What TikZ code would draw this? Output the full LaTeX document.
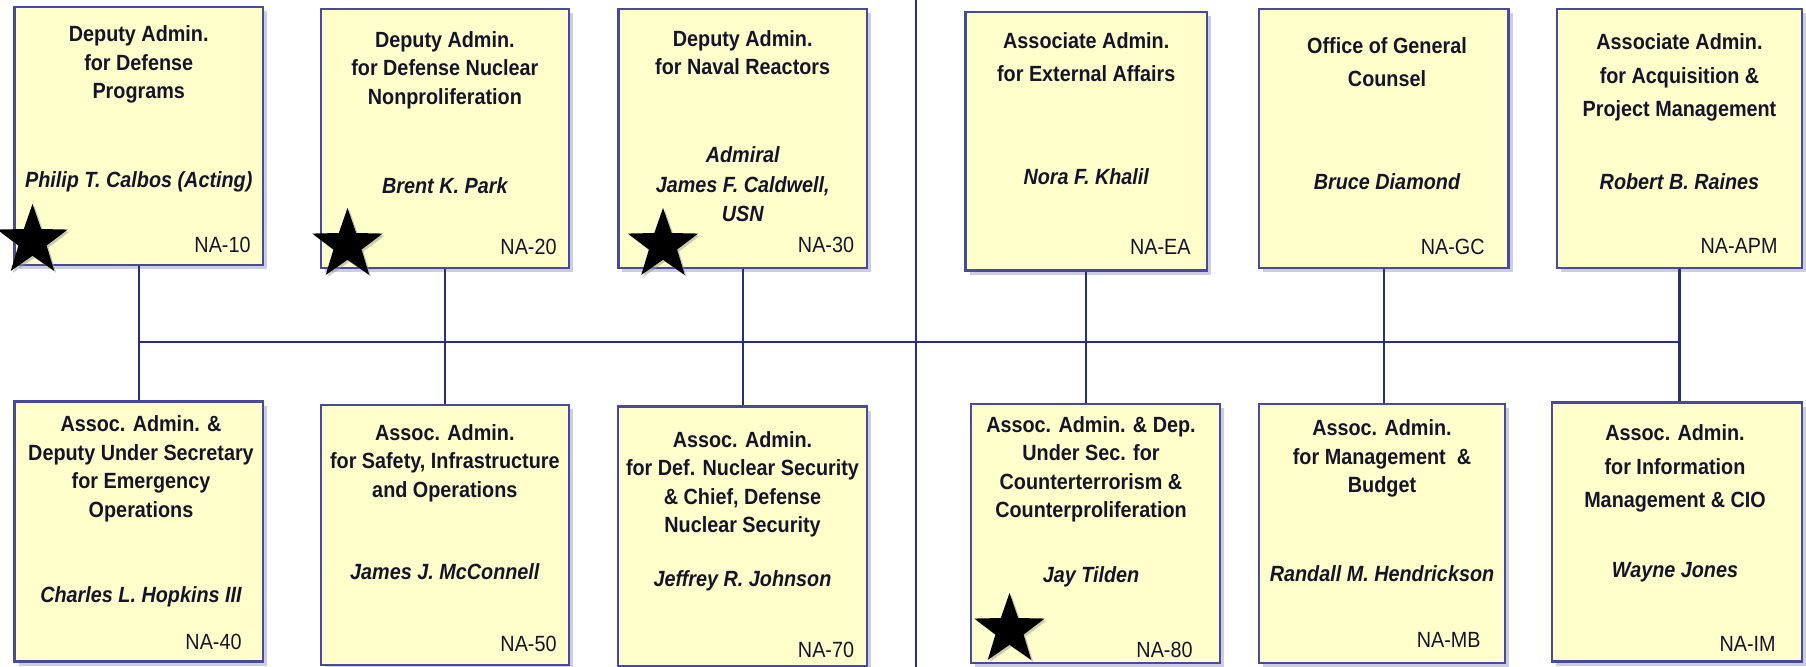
\documentclass[tikz,border=0pt]{standalone}
\usepackage{fontspec}
\setmainfont{Liberation Sans}[FakeStretch=0.9]
\usetikzlibrary{shapes.geometric,shadows}
\definecolor{boxfill}{HTML}{FFFFCC}
\definecolor{boxline}{HTML}{4A4A9C}
\definecolor{wirecol}{HTML}{2B2B80}
\definecolor{ink}{HTML}{15152A}
\begin{document}
\begin{tikzpicture}[x=0.5pt,y=-0.5pt,
  orgbox/.style 2 args={draw=boxline, line width=1.2pt, fill=boxfill,
    minimum width={#1*0.5pt}, minimum height={#2*0.5pt}, inner sep=0pt,
    drop shadow={shadow xshift=2pt, shadow yshift=-2pt, fill=boxline!70, opacity=0.4}},
  ttl/.style={font=\fontsize{11}{14.25}\selectfont\bfseries, text=ink, align=center, anchor=base, inner sep=0pt},
  ttlw/.style={ttl, font=\fontsize{11}{16.75}\selectfont\bfseries},
  who/.style={font=\fontsize{11}{14.75}\selectfont\bfseries\itshape, text=ink, align=center, anchor=base, inner sep=0pt},
  code/.style={font=\fontsize{11}{13}\selectfont, text=ink, anchor=base east, inner sep=0pt},
  wire/.style={draw=wirecol, line width=1.1pt},
  starmark/.style={star, star points=5, star point ratio=2.5, fill=black, minimum size=37pt, inner sep=0pt,
    drop shadow={shadow xshift=1pt, shadow yshift=-1pt, fill=black!40, opacity=0.5}}]
\fill[white] (0,0) rectangle (1806,667);
\useasboundingbox (0,0) rectangle (1806,667);

% top row (text nodes placed by the baseline of their last line)
\node[orgbox={248.5}{258}] (t1) at (138.75,136) {};
\node[ttl] (t1t) at (138.75,99) {Deputy Admin.\\for Defense\\Programs};
\node[who] (t1n) at (138.75,188) {Philip T. Calbos (Acting)};
\node[code] (t1c) at (251,253) {NA-10};

\node[orgbox={248.3}{258.7}] (t2) at (444.85,138.65) {};
\node[ttl] (t2t) at (444.85,104.5) {Deputy Admin.\\for Defense Nuclear\\Nonproliferation};
\node[who] (t2n) at (444.85,194) {Brent K. Park};
\node[code] (t2c) at (557,255) {NA-20};

\node[orgbox={248.6}{259}] (t3) at (742.7,138.5) {};
\node[ttl] (t3t) at (742.7,75) {Deputy Admin.\\for Naval Reactors};
\node[who] (t3n) at (742.7,222) {Admiral\\James F. Caldwell,\\USN};
\node[code] (t3c) at (854.5,253) {NA-30};

\node[orgbox={241.5}{258.4}] (t4) at (1086.25,141.5) {};
\node[ttlw] (t4t) at (1086.25,82) {Associate Admin.\\for External Affairs};
\node[who] (t4n) at (1086.25,185) {Nora F. Khalil};
\node[code] (t4c) at (1191,255) {NA-EA};

\node[orgbox={249.5}{259}] (t5) at (1383.75,138.5) {};
\node[ttlw] (t5t) at (1387,87) {Office of General\\Counsel};
\node[who] (t5n) at (1387,190) {Bruce Diamond};
\node[code] (t5c) at (1485,255) {NA-GC};

\node[orgbox={245}{258.7}] (t6) at (1679.5,138.65) {};
\node[ttlw] (t6t) at (1679.5,117) {Associate Admin.\\for Acquisition \&\\Project Management};
\node[who] (t6n) at (1679.5,190) {Robert B. Raines};
\node[code] (t6c) at (1778,254) {NA-APM};

% bottom row
\node[orgbox={248.5}{260}] (b7) at (138.75,531.7) {};
\node[ttl] (b7t) at (141,517.5) {Assoc. Admin. \&\\Deputy Under Secretary\\for Emergency\\Operations};
\node[who] (b7n) at (141,603) {Charles L. Hopkins III};
\node[code] (b7c) at (242,650) {NA-40};

\node[orgbox={248.3}{260}] (b8) at (444.85,535) {};
\node[ttl] (b8t) at (444.85,497.5) {Assoc. Admin.\\for Safety, Infrastructure\\and Operations};
\node[who] (b8n) at (444.85,580) {James J. McConnell};
\node[code] (b8c) at (557,651.7) {NA-50};

\node[orgbox={249}{259.3}] (b9) at (742.5,536.35) {};
\node[ttl] (b9t) at (742.5,533) {Assoc. Admin.\\for Def. Nuclear Security\\\& Chief, Defense\\Nuclear Security};
\node[who] (b9n) at (742.5,586.7) {Jeffrey R. Johnson};
\node[code] (b9c) at (854.5,658) {NA-70};

\node[orgbox={249}{259}] (b10) at (1095.5,533.5) {};
\node[ttl] (b10t) at (1091,518) {Assoc. Admin. \& Dep.\\Under Sec. for\\Counterterrorism \&\\Counterproliferation};
\node[who] (b10n) at (1091,583) {Jay Tilden};
\node[code] (b10c) at (1193,658) {NA-80};

\node[orgbox={246}{259}] (b11) at (1382,533.5) {};
\node[ttl] (b11t) at (1382,493) {Assoc. Admin.\\for Management \ \&\\Budget};
\node[who] (b11n) at (1382,581.7) {Randall M. Hendrickson};
\node[code] (b11c) at (1481,648) {NA-MB};

\node[orgbox={250}{259}] (b12) at (1677,532.2) {};
\node[ttlw] (b12t) at (1675,508) {Assoc. Admin.\\for Information\\Management \& CIO};
\node[who] (b12n) at (1675,578) {Wayne Jones};
\node[code] (b12c) at (1776,651.7) {NA-IM};

% connectors
\coordinate (bus) at (0,342);
\coordinate (divtop) at (916,0);
\coordinate (divbot) at (916,667);
\draw[wire] (divtop) -- (divbot);
\draw[wire] (t1.south |- bus) -- (t6.south |- bus);
\draw[wire] (t1.south) -- (t1.south |- b7.north);
\draw[wire] (t2.south) -- (t2.south |- b8.north);
\draw[wire] (t3.south) -- (t3.south |- b9.north);
\draw[wire] (t4.south) -- (t4.south |- b10.north);
\draw[wire] (t5.south) -- (t5.south |- b11.north);
\draw[wire] (t6.south) -- (t6.south |- b12.north);

% stars
\node[starmark] (s1) at (32.5,241) {};
\node[starmark] (s2) at (347.5,245) {};
\node[starmark] (s3) at (663,245) {};
\node[starmark] (s4) at (1009.5,630) {};
\end{tikzpicture}
\end{document}
